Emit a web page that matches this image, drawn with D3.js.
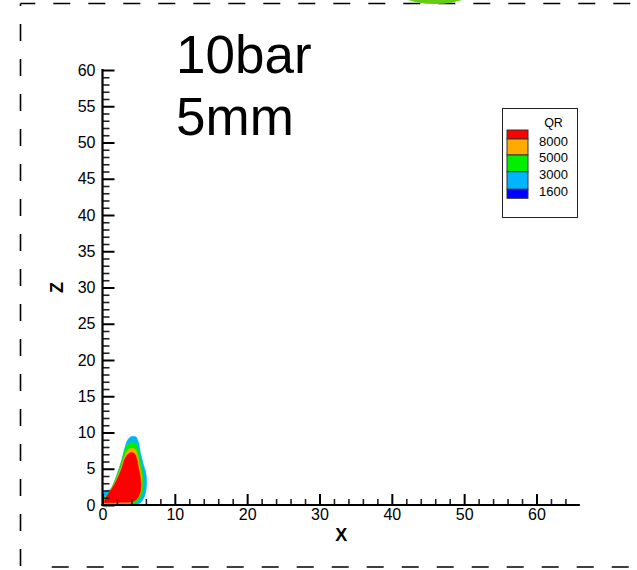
<!DOCTYPE html>
<html>
<head>
<meta charset="utf-8">
<script src="https://cdn.jsdelivr.net/npm/d3@7"></script>
<style>
  html, body { margin: 0; padding: 0; background: #fff; }
  svg { display: block; font-family: "Liberation Sans", Arial, sans-serif; }
</style>
</head>
<body>
<svg id="chart" width="637" height="570"></svg>
<script>
// Contour levels of QR and their fill colours (legend order: top = highest)
const levels = [8000, 5000, 3000, 1600];
const legendColors = ["#ff0000", "#ffaa00", "#00ee00", "#00b4ff", "#0000ff"];

// Axis tick values
const xMajorTicks = [0, 10, 20, 30, 40, 50, 60];
const zMajorTicks = [0, 5, 10, 15, 20, 25, 30, 35, 40, 45, 50, 55, 60];

// Iso-region outlines in (X, Z) data units, one per contour level
const regionQR1600 = [[0,0],[0,1.6],[0.4,2.0],[1.0,2.1],[1.4,2.6],[2.0,4.2],[2.7,6.3],[3.1,7.9],[3.5,9.0],
  [4.0,9.45],[4.6,9.4],[5.0,8.6],[5.25,7.2],[5.6,5.8],[6.0,4.4],[6.1,3.0],[5.9,1.5],[5.4,0.5],[4.6,0.0],[2.0,-0.2]];
const regionQR3000 = [[0,0],[0,0.8],[0.5,1.3],[0.9,1.7],[1.5,2.9],[2.3,4.9],[2.9,7.0],[3.35,8.2],[3.9,8.6],
  [4.5,8.55],[4.9,7.9],[5.2,6.3],[5.6,4.4],[5.75,3.0],[5.55,1.7],[5.0,0.7],[4.2,0.1],[3.0,0.05]];
const regionQR5000 = [[0.1,0.2],[0.2,0.7],[0.6,1.3],[1.1,2.0],[1.7,3.1],[2.5,5.0],[3.0,6.6],[3.45,7.5],[3.9,7.8],
  [4.5,7.7],[4.8,7.0],[5.1,5.6],[5.4,4.2],[5.45,3.0],[5.3,1.8],[4.85,0.9],[4.0,0.35],[2.5,0.25],[1.0,0.2]];
const regionQR8000 = [[0.25,0.35],[0.35,0.8],[0.7,1.4],[1.2,2.1],[1.8,3.1],[2.6,4.9],[3.1,6.4],[3.55,7.05],[4.0,7.25],
  [4.4,7.1],[4.7,6.5],[5.0,5.0],[5.3,3.4],[5.3,2.2],[5.0,1.2],[4.5,0.6],[3.8,0.4],[2.2,0.35],[1.0,0.3]];

const regions = [
  { pts: regionQR1600, color: "#00b4ff" },
  { pts: regionQR3000, color: "#00ee00" },
  { pts: regionQR5000, color: "#ffaa00" },
  { pts: regionQR8000, color: "#ff0000" }
];

const svg = d3.select("#chart");
const FONT = '"Liberation Sans", Arial, sans-serif';

// Dashed frame around the panel
const frame = svg.append("g").attr("stroke", "#000").attr("stroke-width", 1.6).attr("fill", "none");
frame.append("line").attr("x1", 20.5).attr("y1", 3.5).attr("x2", 640).attr("y2", 3.5)
  .attr("stroke-dasharray", "17 18").attr("stroke-dashoffset", 2.2);
frame.append("line").attr("x1", 20.5).attr("y1", 3.5).attr("x2", 20.5).attr("y2", 567)
  .attr("stroke-dasharray", "17 18").attr("stroke-dashoffset", 14.5);
frame.append("line").attr("x1", 51.7).attr("y1", 567).attr("x2", 640).attr("y2", 567)
  .attr("stroke-dasharray", "17 18");

// Fragment of the neighbouring panel above
svg.append("ellipse").attr("cx", 435).attr("cy", -16).attr("rx", 45).attr("ry", 20)
  .attr("fill", "#66cc14");

// Scales
const x = d3.scaleLinear().domain([0, 66]).range([102.5, 102.5 + 66 * 7.233]);
const z = d3.scaleLinear().domain([0, 60]).range([505, 70]);

// Contour fills, clipped to the plot area
svg.append("defs").append("clipPath").attr("id", "plotClip")
  .append("rect").attr("x", x(0)).attr("y", z(60)).attr("width", x(66) - x(0)).attr("height", z(0) - z(60));

const line = d3.line().x(d => x(d[0])).y(d => z(d[1])).curve(d3.curveCatmullRomClosed.alpha(0.5));
svg.append("g").attr("clip-path", "url(#plotClip)")
  .selectAll("path").data(regions).join("path")
  .attr("d", d => line(d.pts))
  .attr("fill", d => d.color)
  .attr("stroke", d => d.color).attr("stroke-width", 0.5);

// Y (Z) axis: ticks point into the plot, labels on the left
const zMinor = d3.range(0, 61, 1).filter(v => v % 5 !== 0);
const xMinor = d3.range(0, 66, 2).filter(v => v % 10 !== 0);

const gz = svg.append("g");
gz.append("g").attr("transform", `translate(${x(0)},0)`)
  .call(d3.axisRight(z).tickValues(zMinor).tickSize(7).tickFormat(""))
  .call(g => g.select(".domain").remove())
  .call(g => g.selectAll("line").attr("stroke", "#222").attr("stroke-width", 1.6));
gz.append("g").attr("transform", `translate(${x(0)},0)`)
  .call(d3.axisRight(z).tickValues(zMajorTicks).tickSize(12).tickFormat(""))
  .call(g => g.select(".domain").remove())
  .call(g => g.selectAll("line").attr("stroke", "#000").attr("stroke-width", 2));
gz.append("g").attr("transform", `translate(${x(0)},0)`)
  .call(d3.axisLeft(z).tickValues(zMajorTicks).tickSize(0).tickPadding(7))
  .call(g => g.select(".domain").remove())
  .call(g => g.selectAll("text").attr("font-family", FONT).attr("font-size", 16).attr("fill", "#000"));

// X axis: ticks point up, labels below
const gx = svg.append("g");
gx.append("g").attr("transform", `translate(0,${z(0)})`)
  .call(d3.axisTop(x).tickValues(xMinor).tickSize(6).tickFormat(""))
  .call(g => g.select(".domain").remove())
  .call(g => g.selectAll("line").attr("stroke", "#222").attr("stroke-width", 1.6));
gx.append("g").attr("transform", `translate(0,${z(0)})`)
  .call(d3.axisTop(x).tickValues(xMajorTicks).tickSize(11).tickFormat(""))
  .call(g => g.select(".domain").remove())
  .call(g => g.selectAll("line").attr("stroke", "#000").attr("stroke-width", 2));
gx.append("g").attr("transform", `translate(0,${z(0)})`)
  .call(d3.axisBottom(x).tickValues(xMajorTicks).tickSize(0).tickPadding(4))
  .call(g => g.select(".domain").remove())
  .call(g => g.selectAll("text").attr("font-family", FONT).attr("font-size", 16).attr("fill", "#000"));

// Axis lines
svg.append("line").attr("x1", x(0)).attr("x2", x(0)).attr("y1", z(60) - 1).attr("y2", z(0) + 1)
  .attr("stroke", "#000").attr("stroke-width", 2.2);
svg.append("line").attr("x1", x(0) - 1).attr("x2", x(66)).attr("y1", z(0)).attr("y2", z(0))
  .attr("stroke", "#000").attr("stroke-width", 2.2);

// Axis titles
svg.append("text").attr("x", (x(0) + x(66)) / 2).attr("y", 541)
  .attr("text-anchor", "middle").attr("font-family", FONT).attr("font-weight", "bold")
  .attr("font-size", 18).text("X");
svg.append("text").attr("transform", `translate(63,${(z(0) + z(60)) / 2}) rotate(-90)`)
  .attr("text-anchor", "middle").attr("font-family", FONT).attr("font-weight", "bold")
  .attr("font-size", 18).text("Z");

// Panel annotation
svg.append("text").attr("x", 176).attr("y", 73).attr("font-family", FONT).attr("font-size", 53).text("10bar");
svg.append("text").attr("x", 176).attr("y", 135).attr("font-family", FONT).attr("font-size", 53).text("5mm");

// Legend
const lg = svg.append("g");
lg.append("rect").attr("x", 502.5).attr("y", 108.5).attr("width", 75).attr("height", 109)
  .attr("fill", "#fff").attr("stroke", "#222").attr("stroke-width", 1);
lg.append("text").attr("x", 553.5).attr("y", 127).attr("text-anchor", "middle")
  .attr("font-family", FONT).attr("font-size", 12.5).text("QR");

// Swatch band edges; level labels sit on the boundaries between bands
const swatchTops = [130, 139, 155, 171.7, 189.3];
const swatchBottoms = [139, 155, 171.7, 189.3, 198.3];
lg.selectAll("rect.sw").data(legendColors).join("rect").attr("class", "sw")
  .attr("x", 507).attr("width", 21)
  .attr("y", (d, i) => swatchTops[i]).attr("height", (d, i) => swatchBottoms[i] - swatchTops[i])
  .attr("fill", d => d).attr("stroke", "#333").attr("stroke-width", 1);
lg.selectAll("text.lv").data(levels).join("text").attr("class", "lv")
  .attr("x", 539).attr("y", (d, i) => swatchBottoms[i] + 7)
  .attr("font-family", FONT).attr("font-size", 13).text(d => d);
</script>
</body>
</html>
